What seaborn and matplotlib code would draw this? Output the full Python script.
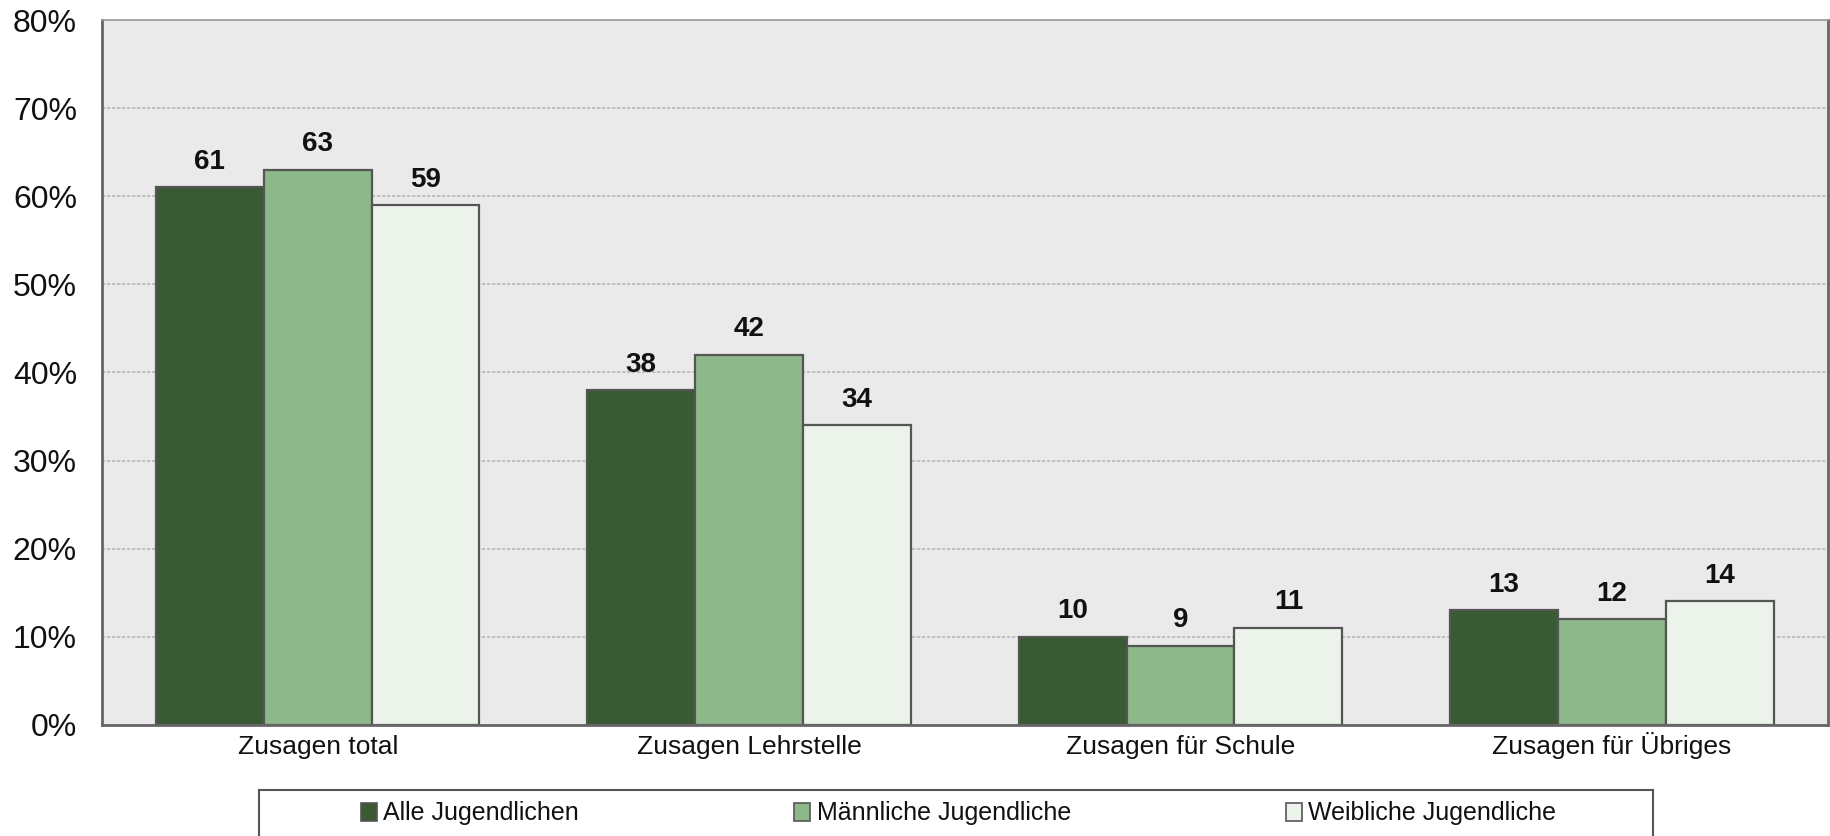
import matplotlib
matplotlib.use("Agg")
import matplotlib.pyplot as plt
import seaborn as sns
import pandas as pd
from matplotlib.patches import Rectangle, Patch

categories = ["Zusagen total", "Zusagen Lehrstelle", "Zusagen für Schule", "Zusagen für Übriges"]
series = ["Alle Jugendlichen", "Männliche Jugendliche", "Weibliche Jugendliche"]
alle = [61, 38, 10, 13]
maennlich = [63, 42, 9, 12]
weiblich = [59, 34, 11, 14]
y_ticks = [0, 10, 20, 30, 40, 50, 60, 70, 80]

colors = ["#3A5A34", "#8DB88A", "#EBF3EA"]
edge = "#555555"

rows = []
for name, vals in zip(series, [alle, maennlich, weiblich]):
    for cat, v in zip(categories, vals):
        rows.append({"Kategorie": cat, "Gruppe": name, "Wert": v})
df = pd.DataFrame(rows)

sns.set_theme(style="white")
plt.rcParams["font.family"] = ["Liberation Sans", "DejaVu Sans"]

fig = plt.figure(figsize=(18.31, 8.36), dpi=100)
ax = fig.add_axes([0.0557, 0.133, 0.9425, 0.843])
ax.set_facecolor("#EAEAEA")

sns.barplot(data=df, x="Kategorie", y="Wert", hue="Gruppe", order=categories,
            hue_order=series, palette=colors, width=0.75, gap=0,
            edgecolor=edge, linewidth=1.6, saturation=1, ax=ax, legend=False)

for cont in ax.containers:
    ax.bar_label(cont, fmt="%d", padding=9, fontsize=20, fontweight="bold", color="#111111")

ax.set_ylim(0, 80)
ax.set_xlim(-0.5, 3.5)
ax.set_yticks(y_ticks)
ax.set_yticklabels([f"{t}%" for t in y_ticks])
ax.tick_params(axis="y", length=0, pad=18, labelsize=23, labelcolor="#111111")
ax.tick_params(axis="x", length=0, pad=21, labelsize=19, labelcolor="#111111")
for lab in ax.get_xticklabels():
    lab.set_verticalalignment("baseline")
ax.set_xlabel("")
ax.set_ylabel("")

ax.yaxis.grid(True, color="#B8B8B8", linestyle=(0, (2, 1)), linewidth=1.2)
ax.set_axisbelow(True)

for s in ["left", "bottom", "right"]:
    ax.spines[s].set_color("#666666")
    ax.spines[s].set_linewidth(2)
ax.spines["top"].set_color("#999999")
ax.spines["top"].set_linewidth(1.2)

# legend frame spanning below the plot
fig.patches.append(Rectangle((259 / 1831, -0.05), (1653 - 259) / 1831, 0.105,
                             transform=fig.transFigure, fill=False,
                             edgecolor="#555555", linewidth=1.5))
handles = [Patch(facecolor=c, edgecolor=edge, linewidth=1.2) for c in colors]
fig.legend(handles, series, loc="center", bbox_to_anchor=(0.5235, 0.027), ncol=3,
           frameon=False, fontsize=18, handlelength=0.65, handleheight=0.75,
           handletextpad=0.25, columnspacing=8.6, labelcolor="#111111")

fig.savefig("out.png", dpi=100)
